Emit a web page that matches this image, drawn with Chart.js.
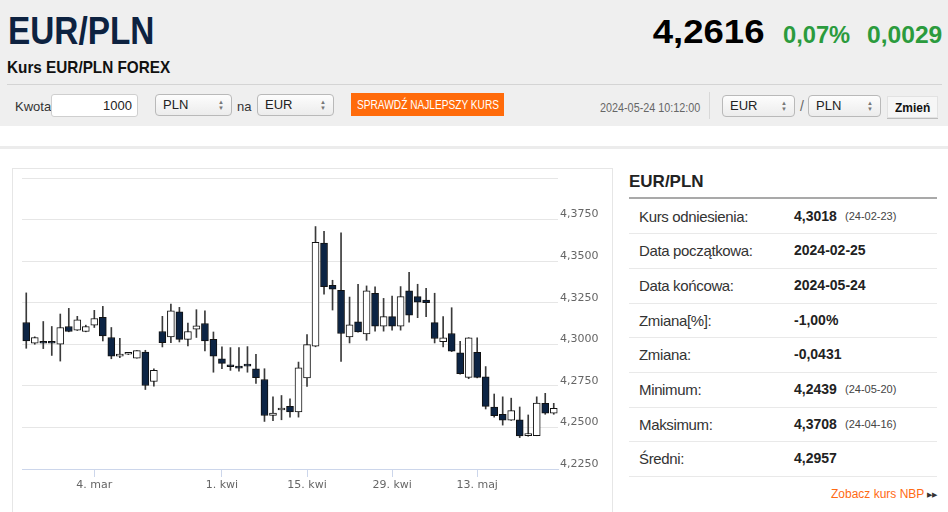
<!DOCTYPE html>
<html lang="pl">
<head>
<meta charset="utf-8">
<title>EUR/PLN</title>
<script src="https://cdn.jsdelivr.net/npm/chart.js@4.4.1/dist/chart.umd.min.js"></script>
<style>
  body { margin:0; width:948px; height:512px; overflow:hidden; background:#fff; position:relative;
         font-family:"Liberation Sans", Arial, sans-serif; color:#333; }
  .abs { position:absolute; white-space:nowrap; line-height:1; }
  .sx { transform-origin:0 0; }
  .sxr { transform-origin:100% 0; }
  #head { position:absolute; left:0; top:0; width:948px; height:126px; background:#efefef; }
  .sel { position:absolute; height:20px; border:1px solid #b9b9b9; border-radius:4px;
         background:linear-gradient(#fdfdfd,#ececec); font-size:13px; line-height:20px; color:#222; }
  .sel span.t { position:absolute; left:7px; top:0; }
  .sel span.a { position:absolute; right:7px; top:4px; font-size:6px; line-height:6px; color:#777; }
  .row { position:absolute; left:0; width:308px; height:33.7px; border-bottom:1px solid #e9e9e9; line-height:33.7px; }
  .row .l { position:absolute; left:10px; font-size:15px; letter-spacing:-0.35px; color:#333; }
  .row .v { position:absolute; left:165px; font-size:14px; font-weight:bold; color:#222; }
  .row .d { position:absolute; left:216px; font-size:11px; color:#444; }
</style>
</head>
<body>
<div id="head">
  <div class="abs sx" style="left:8px;top:11px;font-size:39px;font-weight:bold;color:#0d2240;transform:scaleX(0.855)">EUR/PLN</div>
  <div class="abs sx" style="left:7px;top:59px;font-size:17px;font-weight:bold;color:#111;transform:scaleX(0.9)">Kurs EUR/PLN FOREX</div>
  <div class="abs sxr" style="right:184px;top:15px;font-size:33.5px;font-weight:bold;color:#000;transform:scaleX(1.09)">4,2616</div>
  <div class="abs sx" style="left:783px;top:23.5px;font-size:23px;font-weight:bold;color:#2b9b3d;transform:scaleX(1.03)">0,07%</div>
  <div class="abs sx" style="left:867px;top:23.5px;font-size:23px;font-weight:bold;color:#2b9b3d;transform:scaleX(1.07)">0,0029</div>
  <div style="position:absolute;left:7px;top:84px;width:935px;height:1px;background:#d4d4d4"></div>

  <div class="abs" style="left:15px;top:100px;font-size:13px;color:#333">Kwota</div>
  <div style="position:absolute;left:51px;top:94px;width:85px;height:21px;border:1px solid #cfcfcf;border-radius:3px;background:#fff">
    <span class="abs" style="right:5px;top:4px;font-size:13px;color:#222">1000</span>
  </div>
  <div class="sel" style="left:155px;top:94px;width:75px"><span class="t">PLN</span><span class="a">▲<br>▼</span></div>
  <div class="abs" style="left:237px;top:100px;font-size:13px;color:#333">na</div>
  <div class="sel" style="left:257px;top:94px;width:75px"><span class="t">EUR</span><span class="a">▲<br>▼</span></div>
  <div style="position:absolute;left:351px;top:93px;width:153px;height:23px;background:#ff6b0b"></div>
  <div class="abs sx" style="left:357px;top:99px;font-size:12px;color:#fff;transform:scaleX(0.845)">SPRAWDŹ NAJLEPSZY KURS</div>
  <div class="abs sx" style="left:600px;top:101.5px;font-size:12px;color:#666;transform:scaleX(0.9)">2024-05-24 10:12:00</div>
  <div style="position:absolute;left:709px;top:92px;width:1px;height:27px;background:#d8d8d8"></div>
  <div class="sel" style="left:722px;top:95px;width:71px"><span class="t">EUR</span><span class="a">▲<br>▼</span></div>
  <div class="abs" style="left:800px;top:99px;font-size:14px;color:#666">/</div>
  <div class="sel" style="left:808px;top:95px;width:71px"><span class="t">PLN</span><span class="a">▲<br>▼</span></div>
  <div style="position:absolute;left:887px;top:96px;width:49px;height:20px;background:#f6f6f6;border:1px solid #e2e2e2;box-shadow:0 1px 0 #bdbdbd"></div>
  <div class="abs sx" style="left:895px;top:101px;font-size:13px;font-weight:bold;color:#111;transform:scaleX(0.92)">Zmień</div>
</div>
<div style="position:absolute;left:0;top:146px;width:948px;height:3px;background:#ececec"></div>

<div style="position:absolute;left:12px;top:168px;width:599px;height:360px;border:1px solid #e6e6e6"></div>
<div style="position:absolute;left:13px;top:169px;width:598px;height:343px"><canvas id="kursChart"></canvas></div>

<div style="position:absolute;left:629px;top:168px;width:308px;height:344px">
  <div class="abs" style="left:0;top:5px;font-size:17px;font-weight:bold;color:#222">EUR/PLN</div>
  <div style="position:absolute;left:0;top:29px;width:308px;height:2px;background:#a9a9a9"></div>
  <div id="rows"></div>
  <div class="abs" style="left:202px;top:320px;font-size:12px;color:#ff6a13">Zobacz kurs NBP <span style="font-size:7px;color:#333;vertical-align:1px">▶▶</span></div>
</div>

<script>
// sesje EUR/PLN, 2024-02-26 .. 2024-05-24
const open  = [4.3131, 4.3006, 4.3018, 4.3018, 4.3000, 4.3107, 4.3085, 4.3077, 4.3115, 4.3162,
               4.3041, 4.2929, 4.2940, 4.2917, 4.2953, 4.2776, 4.3077, 4.3044, 4.3195, 4.3030,
               4.3091, 4.3125, 4.3030, 4.2913, 4.2877, 4.2865, 4.2877, 4.2853, 4.2788, 4.2572,
               4.2605, 4.2627, 4.2593, 4.2798, 4.2988, 4.3609, 4.3355, 4.3325, 4.3045, 4.3135,
               4.3063, 4.3307, 4.3109, 4.3166, 4.3109, 4.3321, 4.3287, 4.3266, 4.3130, 4.3015,
               4.3065, 4.2948, 4.2801, 4.2951, 4.2805, 4.2623, 4.2579, 4.2544, 4.2546, 4.2451,
               4.2450, 4.2645, 4.2585];
const high  = [4.3309, 4.3045, 4.3137, 4.3107, 4.3182, 4.3216, 4.3168, 4.3115, 4.3204, 4.3228,
               4.3101, 4.3036, 4.2944, 4.2962, 4.2964, 4.2853, 4.3168, 4.3242, 4.3222, 4.3127,
               4.3208, 4.3201, 4.3074, 4.2984, 4.2980, 4.2980, 4.2986, 4.2940, 4.2853, 4.2684,
               4.2692, 4.2672, 4.2893, 4.3059, 4.3708, 4.3680, 4.3385, 4.3670, 4.3284, 4.3361,
               4.3351, 4.3345, 4.3276, 4.3290, 4.3347, 4.3432, 4.3361, 4.3337, 4.3307, 4.3166,
               4.3220, 4.3018, 4.3040, 4.3039, 4.2866, 4.2701, 4.2684, 4.2676, 4.2623, 4.2575,
               4.2684, 4.2705, 4.2645];
const low   = [4.2976, 4.3000, 4.2974, 4.2933, 4.2899, 4.3075, 4.3083, 4.3075, 4.3101, 4.3020,
               4.2913, 4.2920, 4.2938, 4.2917, 4.2728, 4.2748, 4.2984, 4.3010, 4.3014, 4.2990,
               4.3041, 4.2960, 4.2832, 4.2853, 4.2843, 4.2839, 4.2832, 4.2764, 4.2536, 4.2540,
               4.2546, 4.2562, 4.2562, 4.2746, 4.2985, 4.3301, 4.3206, 4.2897, 4.3008, 4.3073,
               4.3024, 4.3079, 4.3079, 4.3085, 4.3085, 4.3133, 4.3160, 4.3166, 4.3008, 4.2984,
               4.2956, 4.2820, 4.2793, 4.2798, 4.2611, 4.2562, 4.2514, 4.2542, 4.2439, 4.2447,
               4.2450, 4.2579, 4.2579];
const close = [4.3020, 4.3041, 4.3006, 4.3006, 4.3101, 4.3077, 4.3147, 4.3107, 4.3155, 4.3050,
               4.2929, 4.2941, 4.2942, 4.2962, 4.2752, 4.2843, 4.3010, 4.3201, 4.3030, 4.3077,
               4.3111, 4.3020, 4.2929, 4.2885, 4.2865, 4.2857, 4.2869, 4.2799, 4.2572, 4.2587,
               4.2607, 4.2593, 4.2859, 4.2998, 4.3613, 4.3347, 4.3331, 4.3065, 4.3117, 4.3075,
               4.3321, 4.3109, 4.3166, 4.3109, 4.3287, 4.3175, 4.3254, 4.3250, 4.3035, 4.3039,
               4.2958, 4.2823, 4.3039, 4.2801, 4.2627, 4.2571, 4.2544, 4.2601, 4.2449, 4.2452,
               4.2647, 4.2585, 4.2615];

const tickIdx  = [8, 23, 33, 43, 53];
const tickText = ["4. mar", "1. kwi", "15. kwi", "29. kwi", "13. maj"];

const yMin = 4.225;
const yMax = 4.4;
const yStep = 0.025;

// tabela po prawej
const statLabels = ["Kurs odniesienia:", "Data początkowa:", "Data końcowa:", "Zmiana[%]:", "Zmiana:", "Minimum:", "Maksimum:", "Średni:"];
const statValues = ["4,3018", "2024-02-25", "2024-05-24", "-1,00%", "-0,0431", "4,2439", "4,3708", "4,2957"];
const statDates  = ["(24-02-23)", "", "", "", "", "(24-05-20)", "(24-04-16)", ""];

const rows = document.getElementById("rows");
statLabels.forEach((lab, i) => {
    const r = document.createElement("div");
    r.className = "row";
    r.style.top = (31.5 + i * 34.7) + "px";
    r.innerHTML = `<span class="l">${lab}</span><span class="v">${statValues[i]}</span><span class="d">${statDates[i]}</span>`;
    rows.appendChild(r);
});

const sessions = open.map((_, i) => String(i));
const axisFont = { family: "DejaVu Sans", size: 11 };

const ctx = document.getElementById("kursChart").getContext("2d");
new Chart(ctx, {
    type: "bar",
    data: {
        labels: sessions,
        datasets: [
            {
                label: "korpus",
                data: open.map((o, i) => [o, close[i]]),
                backgroundColor: c => close[c.dataIndex] >= open[c.dataIndex] ? "#ffffff" : "#0c2444",
                borderColor: "#111111",
                borderWidth: 1,
                borderSkipped: false,
                barThickness: 7,
                minBarLength: 2,
                grouped: false,
                order: 0,
            },
            {
                label: "knot",
                data: low.map((l, i) => [l, high[i]]),
                backgroundColor: "#3a3a3a",
                borderWidth: 0,
                barThickness: 1,
                grouped: false,
                order: 1,
            },
        ],
    },
    options: {
        animation: false,
        responsive: true,
        maintainAspectRatio: false,
        layout: { padding: { left: 9, top: 9, right: 0, bottom: 0 } },
        plugins: {
            legend: { display: false },
            tooltip: { enabled: false },
        },
        scales: {
            x: {
                offset: true,
                grid: {
                    offset: false,
                    drawOnChartArea: false,
                    tickLength: 8,
                    tickColor: c => tickIdx.includes(c.index) ? "#ccd6eb" : "rgba(0,0,0,0)",
                },
                border: { color: "#ccd6eb" },
                ticks: {
                    autoSkip: false,
                    maxRotation: 0,
                    padding: 2,
                    color: "#666666",
                    font: axisFont,
                    callback: (v, i) => {
                        const k = tickIdx.indexOf(i);
                        return k < 0 ? "" : tickText[k];
                    },
                },
                afterFit: s => { s.height = 43; },
            },
            y: {
                position: "right",
                min: yMin,
                max: yMax,
                grid: { color: "#e6e6e6", drawTicks: false },
                border: { display: false },
                ticks: {
                    stepSize: yStep,
                    padding: 2,
                    labelOffset: -5,
                    color: "#666666",
                    font: axisFont,
                    callback: v => v > yMax - 0.001 ? "" : v.toFixed(4).replace(".", ","),
                },
                afterFit: s => { s.width = 53; },
            },
        },
    },
});
</script>
</body>
</html>
